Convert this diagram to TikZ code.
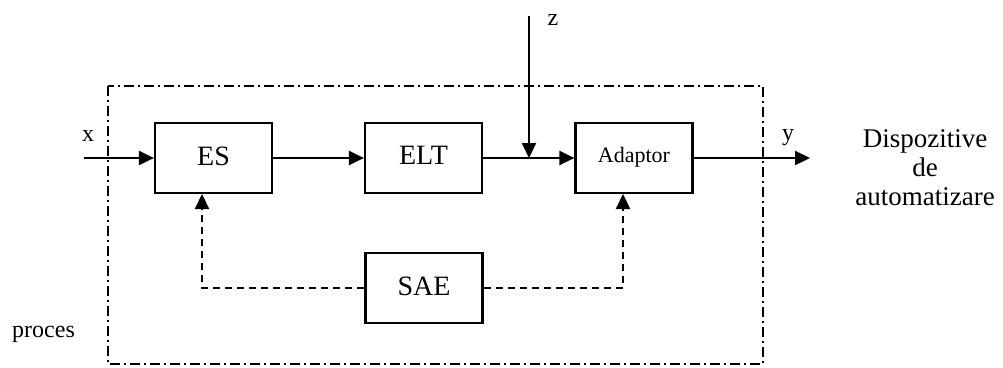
\documentclass[tikz,border=0pt]{standalone}
\usepackage{fontspec}
\setmainfont{Liberation Serif}
\usetikzlibrary{arrows.meta}
\begin{document}
\begin{tikzpicture}[x=1pt,y=-1pt,
  blk/.style={draw, line width=2.2pt, minimum width=117pt, minimum height=70pt, inner sep=0pt, font=\fontsize{28}{30}\selectfont},
  sig/.style={line width=2.2pt, -{Triangle[length=15pt,width=14pt]}},
  fb/.style={sig, dash pattern=on 7pt off 5pt},
  lbl/.style={font=\fontsize{24}{26}\selectfont, inner sep=0pt},
  frame/.style={line width=2.2pt, dash pattern=on 10pt off 4pt on 2pt off 4pt}]
\useasboundingbox (0,0) rectangle (1003,367);
\draw[frame] (108,86) rectangle (763,364);
\node[blk] (es) at (213.5,158) {\raisebox{4.5pt}{ES}};
\node[blk] (elt) at (423.5,158) {\raisebox{4.5pt}{ELT}};
\node[blk, font=\fontsize{22}{24}\selectfont] (ad) at (634,158) {\raisebox{6pt}{Adaptor}};
\node[blk] (sae) at (424,288) {\raisebox{4.5pt}{SAE}};
\coordinate (xin) at (84,158);
\coordinate (yout) at (810,158);
\coordinate (ztop) at (529,16);
\coordinate (zjoin) at (529,158);
\coordinate (esin) at (202,194);
\coordinate (adin) at (623,194);
\draw[sig] (xin) -- (es);
\draw[sig] (es) -- (elt);
\draw[sig] (elt) -- (ad);
\draw[sig] (ztop) -- (zjoin);
\draw[sig] (ad) -- (yout);
\draw[fb] (sae.west) -| (esin);
\draw[fb] (sae.east) -| (adin);
\node[lbl] (xl) at (88,136) {x};
\node[lbl] (zl) at (553,20) {z};
\node[lbl, anchor=base] (yl) at (788,140) {y};
\node[lbl, anchor=base west] (pr) at (12,337) {proces};
\node[font=\fontsize{27}{29}\selectfont, align=center, inner sep=0pt, anchor=north] (dis) at (925,129) {Dispozitive\\de\\automatizare};
\end{tikzpicture}
\end{document}
